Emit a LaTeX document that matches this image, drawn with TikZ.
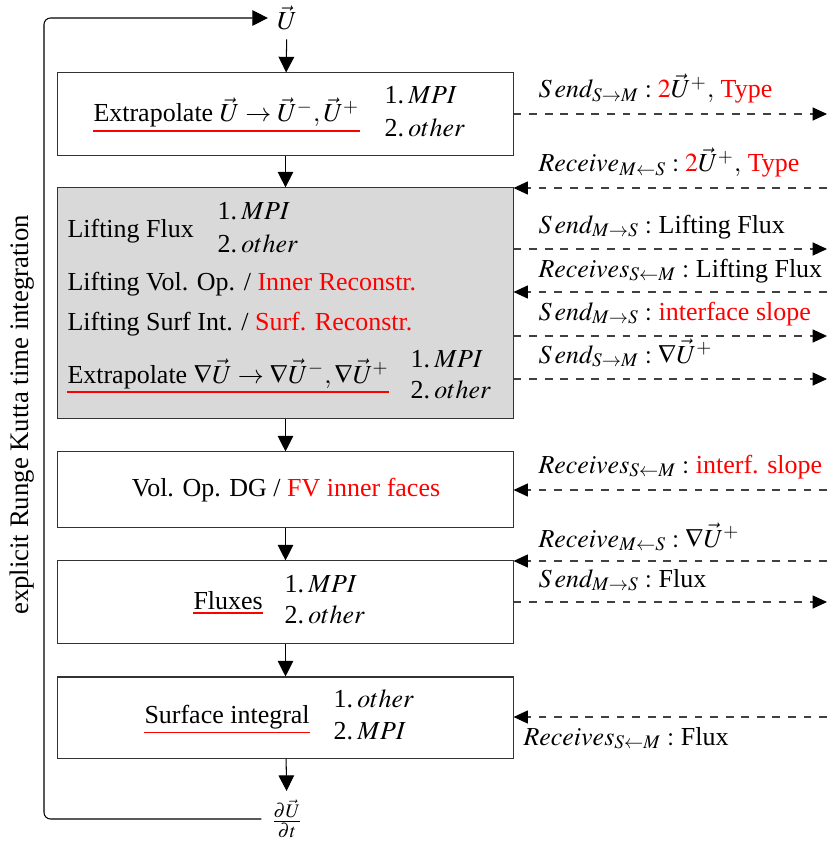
\documentclass[tikz,border=0pt]{standalone}
\usepackage{mathptmx}
\usepackage[no-math]{fontspec}
\setmainfont{Liberation Serif}
\usetikzlibrary{arrows.meta}
\newcommand\Snd{S\mkern2mu end}
\begin{document}
\begin{tikzpicture}[x=0.385pt,y=-0.385pt,
  box/.style={draw=black!80, minimum width=175.2pt, inner sep=0pt},
  arr/.style={-{Triangle[length=6pt,width=6pt]}, black},
  darr/.style={dashed, black!75, -{Triangle[length=5.5pt,width=5pt,black]}},
  txt/.style={anchor=base west, inner sep=0pt},
  lbl/.style={anchor=base west, inner sep=0pt},
  rul/.style={red, line width=0.75pt}]
\useasboundingbox (0,0) rectangle (829,841);

% boxes
\node[box, minimum height=31.6pt] (b1) at (285.5,114) {};
\node[box, fill=gray!30, minimum height=88.6pt] (b2) at (285.5,303) {};
\node[box, minimum height=28.9pt] (b3) at (285.5,489.5) {};
\node[box, minimum height=31.6pt] (b4) at (285.5,602) {};
\node[box, minimum height=31.2pt] (b5) at (285.5,717.5) {};

% box 1
\node[txt] (t1) at (93,122) {Extrapolate $\vec{U}\rightarrow\vec{U}^{-},\vec{U}^{+}$};
\node[txt] (t1a) at (384,104) {1.\,$MPI$};
\node[txt] (t1b) at (384,137) {2.\,$other$};
\draw[rul] ([yshift=-1.3pt]t1.south west) -- ([yshift=-1.3pt]t1.south east);

% box 2
\node[txt] (t2) at (67,237) {Lifting Flux};
\node[txt] (t2a) at (217,219) {1.\,$MPI$};
\node[txt] (t2b) at (217,252) {2.\,$other$};
\node[txt] (t2c) at (67,290) {Lifting Vol. Op. / \textcolor{red}{Inner Reconstr.}};
\node[txt] (t2d) at (67,330) {Lifting Surf Int. / \textcolor{red}{Surf. Reconstr.}};
\node[txt] (t2e) at (67,383) {Extrapolate $\nabla\vec{U}\rightarrow\nabla\vec{U}^{-},\nabla\vec{U}^{+}$};
\node[txt] (t2f) at (410,367) {1.\,$MPI$};
\node[txt] (t2g) at (410,398) {2.\,$other$};
\draw[rul] ([yshift=-1.3pt]t2e.south west) -- ([yshift=-1.3pt]t2e.south east);

% box 3
\node[anchor=base, inner sep=0pt] (t3) at (286,496) {Vol. Op. DG / \textcolor{red}{FV inner faces}};

% box 4
\node[txt] (t4) at (193,609) {Fluxes};
\node[txt] (t4a) at (284,592) {1.\,$MPI$};
\node[txt] (t4b) at (284,623) {2.\,$other$};
\draw[rul] ([yshift=-1.4pt]t4.south west) -- ([yshift=-1.4pt]t4.south east);

% box 5
\node[txt] (t5) at (144,723) {Surface integral};
\node[txt] (t5a) at (333,707) {1.\,$other$};
\node[txt] (t5b) at (333,739) {2.\,$MPI$};
\draw[rul] ([yshift=-1.3pt]t5.south west) -- ([yshift=-1.3pt]t5.south east);

% top / bottom terminals
\node (U) at (287,18) {$\vec{U}$};
\node (dudt) at (287,819) {$\frac{\partial\vec{U}}{\partial t}$};
\coordinate (lt) at (44,18);

% side label
\node[rotate=90, font=\fontsize{10.3}{12}\selectfont] (rk) at (22,415) {explicit Runge Kutta time integration};

% vertical flow
\draw[arr] (U) -- (b1);
\draw[arr] (b1) -- (b2);
\draw[arr] (b2) -- (b3);
\draw[arr] (b3) -- (b4);
\draw[arr] (b4) -- (b5);
\draw[arr] (b5) -- (dudt);
\draw[arr, rounded corners=2.5pt] (dudt.west) -| (lt) -- (U.west);

% right side coordinates
\coordinate (e1) at (827,114);
\coordinate (e2) at (827,188);
\coordinate (e3) at (827,249);
\coordinate (e4) at (827,292);
\coordinate (e5) at (827,336);
\coordinate (e6) at (827,379);
\coordinate (e7) at (827,490);
\coordinate (e8) at (827,561);
\coordinate (e9) at (827,602);
\coordinate (e10) at (827,717);

\draw[darr] (b1.east |- e1) -- (e1);
\draw[darr] (e2) -- (b2.east |- e2);
\draw[darr] (b2.east |- e3) -- (e3);
\draw[darr] (e4) -- (b2.east |- e4);
\draw[darr] (b2.east |- e5) -- (e5);
\draw[darr] (b2.east |- e6) -- (e6);
\draw[darr] (e7) -- (b3.east |- e7);
\draw[darr] (e8) -- (b4.east |- e8);
\draw[darr] (b4.east |- e9) -- (e9);
\draw[darr] (e10) -- (b5.east |- e10);

% right labels
\node[lbl] (l1) at (538,98) {$\Snd_{S\rightarrow M}:\textcolor{red}{2}\vec{U}^{+},$ \textcolor{red}{Type}};
\node[lbl] (l2) at (538,172) {$Receive_{M\leftarrow S}:\textcolor{red}{2}\vec{U}^{+},$ \textcolor{red}{Type}};
\node[lbl] (l3) at (538,233) {$\Snd_{M\rightarrow S}:$ Lifting Flux};
\node[lbl] (l4) at (538,277) {$Receives_{S\leftarrow M}:$ Lifting Flux};
\node[lbl] (l5) at (538,320) {$\Snd_{M\rightarrow S}:$ \textcolor{red}{interface slope}};
\node[lbl] (l6) at (538,363) {$\Snd_{S\rightarrow M}:\nabla\vec{U}^{+}$};
\node[lbl] (l7) at (538,473) {$Receives_{S\leftarrow M}:$ \textcolor{red}{interf. slope}};
\node[lbl] (l8) at (538,547) {$Receive_{M\leftarrow S}:\nabla\vec{U}^{+}$};
\node[lbl] (l9) at (538,587) {$\Snd_{M\rightarrow S}:$ Flux};
\node[lbl] (l10) at (523,745) {$Receives_{S\leftarrow M}:$ Flux};
\end{tikzpicture}
\end{document}
